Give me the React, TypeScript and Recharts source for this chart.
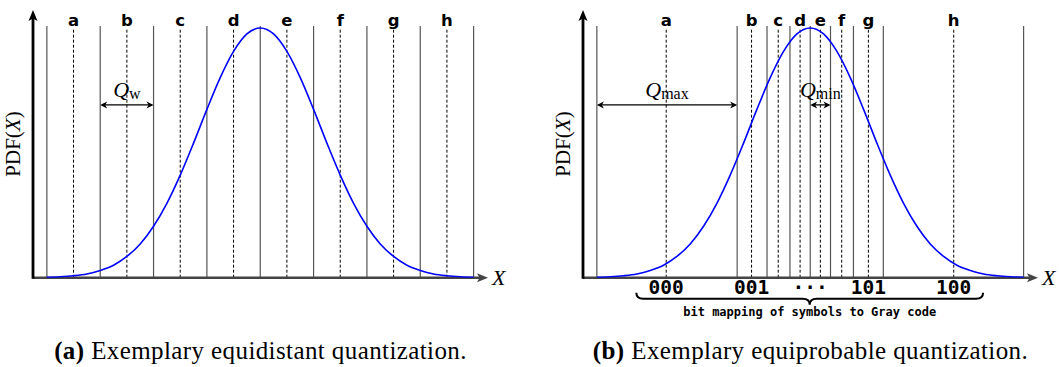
import React from 'react';
import { LineChart, Line, XAxis, YAxis, ReferenceLine, ReferenceDot } from 'recharts';

// sample positions and PDF heights (peak = 1)
const sampleX = [
  -4, -3.75, -3.5, -3.25, -3, -2.75, -2.5, -2.25, -2, -1.75, -1.5, -1.25, -1, -0.75, -0.5, -0.25,
  0, 0.25, 0.5, 0.75, 1, 1.25, 1.5, 1.75, 2, 2.25, 2.5, 2.75, 3, 3.25, 3.5, 3.75, 4,
];
const pdfY = [
  0.002, 0.004, 0.008, 0.015, 0.029, 0.05, 0.085, 0.135, 0.206, 0.298, 0.411, 0.539, 0.674, 0.801, 0.906, 0.976,
  1, 0.976, 0.906, 0.801, 0.674, 0.539, 0.411, 0.298, 0.206, 0.135, 0.085, 0.05, 0.029, 0.015, 0.008, 0.004, 0.002,
];

const symbols = ['a', 'b', 'c', 'd', 'e', 'f', 'g', 'h'];

// (a) equidistant
const equidistantBounds = [-4, -3, -2, -1, 0, 1, 2, 3, 4];
const equidistantCenters = [-3.5, -2.5, -1.5, -0.5, 0.5, 1.5, 2.5, 3.5];

// (b) equiprobable
const equiprobableBounds = [-4, -1.37, -0.81, -0.38, 0, 0.38, 0.81, 1.37, 4];
const equiprobableCenters = [-2.7, -1.1, -0.6, -0.19, 0.19, 0.59, 1.09, 2.69];
const grayCodes = ['000', '001', '···', '101', '100'];
const grayCodeX = [-2.7, -1.1, 0, 1.09, 2.69];
const braceRange = [-3.26, 3.24];

const X_DOMAIN: [number, number] = [-4.26, 4.27];
const Y_DOMAIN: [number, number] = [0, 1.072];
const LINE_TOP = 1.008;
const ARROW_Y = 0.692;

const SERIF = '"Liberation Serif", "Times New Roman", serif';
const SANS = '"DejaVu Sans", sans-serif';
const MONO = '"DejaVu Sans Mono", monospace';

const data = sampleX.map((x, i) => ({ x, pdf: pdfY[i] }));

const xAxisShape = (caption: React.ReactNode) => (p: any) => {
  const { x1, x2, y1 } = p;
  return (
    <g>
      <line x1={x1} y1={y1} x2={x2 - 8} y2={y1} stroke="#444" strokeWidth={2.6} />
      <path d={`M${x2},${y1} l-11,-4.5 l2.5,4.5 l-2.5,4.5 z`} fill="#444" />
      <text x={x2 + 4} y={y1 + 7} fontFamily={SERIF} fontStyle="italic" fontSize={22}>X</text>
      <text
        x={(x1 + x2) / 2}
        y={359}
        textAnchor="middle"
        fontFamily={SERIF}
        fontSize={25}
        letterSpacing={0.4}
      >
        {caption}
      </text>
    </g>
  );
};

const yAxisShape = (p: any) => {
  const { x1, y1, y2 } = p;
  const top = Math.min(y1, y2);
  const bottom = Math.max(y1, y2);
  const mid = 144;
  return (
    <g>
      <line x1={x1} y1={bottom + 1} x2={x1} y2={top + 8} stroke="#000" strokeWidth={2.8} />
      <path d={`M${x1},${top} l-4.5,11 l4.5,-2.5 l4.5,2.5 z`} fill="#000" />
      <text
        x={x1 - 13}
        y={mid}
        transform={`rotate(-90, ${x1 - 13}, ${mid})`}
        textAnchor="middle"
        fontFamily={SERIF}
        fontSize={21}
      >
        PDF(<tspan fontStyle="italic">X</tspan>)
      </text>
    </g>
  );
};

const dashedShape = (label: string) => (p: any) => {
  const { x1, y1, y2 } = p;
  const top = Math.min(y1, y2);
  const bottom = Math.max(y1, y2);
  return (
    <g>
      <line x1={x1} y1={bottom} x2={x1} y2={top + 2} stroke="#000" strokeWidth={1} strokeDasharray="3 2" />
      <text x={x1} y={top} textAnchor="middle" fontFamily={SANS} fontWeight="bold" fontSize={16.5}>
        {label}
      </text>
    </g>
  );
};

const qArrowShape = (sub: string) => (p: any) => {
  const { x1, x2, y1 } = p;
  const cx = (x1 + x2) / 2;
  return (
    <g>
      <line x1={x1 + 2} y1={y1} x2={x2 - 2} y2={y1} stroke="#000" strokeWidth={1.3} />
      <path d={`M${x1},${y1} l7,-3.5 l-2,3.5 l2,3.5 z`} fill="#000" />
      <path d={`M${x2},${y1} l-7,-3.5 l2,3.5 l-2,3.5 z`} fill="#000" />
      <text x={cx} y={y1 - 8} textAnchor="middle" fontFamily={SERIF}>
        <tspan fontStyle="italic" fontSize={22}>Q</tspan>
        <tspan fontSize={16} dy={2}>{sub}</tspan>
      </text>
    </g>
  );
};

const braceShape = (p: any) => {
  const { x1, x2, y1 } = p;
  const xm = (x1 + x2) / 2;
  const ya = y1 + 15;
  const ym = y1 + 21;
  const yt = y1 + 27;
  const d = `M${x1},${ya} Q${x1},${ym} ${x1 + 7},${ym} L${xm - 7},${ym} Q${xm},${ym} ${xm},${yt} Q${xm},${ym} ${xm + 7},${ym} L${x2 - 7},${ym} Q${x2},${ym} ${x2},${ya}`;
  return (
    <g>
      <path d={d} fill="none" stroke="#000" strokeWidth={2} />
      <text x={xm} y={y1 + 38} textAnchor="middle" fontFamily={MONO} fontWeight="bold" fontSize={12}>
        bit mapping of symbols to Gray code
      </text>
    </g>
  );
};

const codeShape = (code: string) => (p: any) => (
  <text x={p.cx} y={p.cy + 16.5} textAnchor="middle" fontFamily={MONO} fontWeight="bold" fontSize={19.5}>
    {code}
  </text>
);

type Arrow = { from: number; to: number; sub: string };

interface PanelProps {
  bounds: number[];
  centers: number[];
  arrows: Arrow[];
  caption: React.ReactNode;
  codes?: boolean;
}

function Panel({ bounds, centers, arrows, caption, codes }: PanelProps) {
  return (
    <LineChart width={530} height={367} data={data} margin={{ top: 10, right: 42, bottom: 89.3, left: 33 }}>
      <XAxis dataKey="x" type="number" domain={X_DOMAIN} allowDataOverflow hide />
      <YAxis type="number" domain={Y_DOMAIN} allowDataOverflow hide />

      {bounds.map((b) => (
        <ReferenceLine
          key={`s${b}`}
          segment={[{ x: b, y: 0 }, { x: b, y: LINE_TOP }]}
          stroke="#555"
          strokeWidth={1.2}
          ifOverflow="visible"
        />
      ))}
      {centers.map((c, i) => (
        <ReferenceLine
          key={`d${c}`}
          segment={[{ x: c, y: 0 }, { x: c, y: LINE_TOP }]}
          shape={dashedShape(symbols[i])}
          ifOverflow="visible"
        />
      ))}
      {arrows.map((a) => (
        <ReferenceLine
          key={`q${a.sub}`}
          segment={[{ x: a.from, y: ARROW_Y }, { x: a.to, y: ARROW_Y }]}
          shape={qArrowShape(a.sub)}
          ifOverflow="visible"
        />
      ))}

      <ReferenceLine
        segment={[{ x: X_DOMAIN[0], y: 0 }, { x: X_DOMAIN[1], y: 0 }]}
        shape={xAxisShape(caption)}
        ifOverflow="visible"
      />
      <ReferenceLine
        segment={[{ x: X_DOMAIN[0], y: 0 }, { x: X_DOMAIN[0], y: Y_DOMAIN[1] }]}
        shape={yAxisShape}
        ifOverflow="visible"
      />

      {codes &&
        grayCodes.map((g, i) => (
          <ReferenceDot key={`g${i}`} x={grayCodeX[i]} y={0} r={0} shape={codeShape(g)} ifOverflow="visible" />
        ))}
      {codes && (
        <ReferenceLine
          segment={[{ x: braceRange[0], y: 0 }, { x: braceRange[1], y: 0 }]}
          shape={braceShape}
          ifOverflow="visible"
        />
      )}

      <Line
        type="monotone"
        dataKey="pdf"
        stroke="#0000ff"
        strokeWidth={1.6}
        dot={false}
        isAnimationActive={false}
      />
    </LineChart>
  );
}

export default function App() {
  return (
    <div style={{ position: 'absolute', left: 0, top: 0, width: 1059, height: 367, background: '#fff' }}>
      <div style={{ position: 'absolute', left: 0, top: 0 }}>
        <Panel
          bounds={equidistantBounds}
          centers={equidistantCenters}
          arrows={[{ from: -3, to: -2, sub: 'w' }]}
          caption={
            <>
              <tspan fontWeight="bold">(a)</tspan> Exemplary equidistant quantization.
            </>
          }
        />
      </div>
      <div style={{ position: 'absolute', left: 550, top: 0 }}>
        <Panel
          bounds={equiprobableBounds}
          centers={equiprobableCenters}
          arrows={[
            { from: -4, to: -1.37, sub: 'max' },
            { from: 0, to: 0.38, sub: 'min' },
          ]}
          caption={
            <>
              <tspan fontWeight="bold">(b)</tspan> Exemplary equiprobable quantization.
            </>
          }
          codes
        />
      </div>
    </div>
  );
}
